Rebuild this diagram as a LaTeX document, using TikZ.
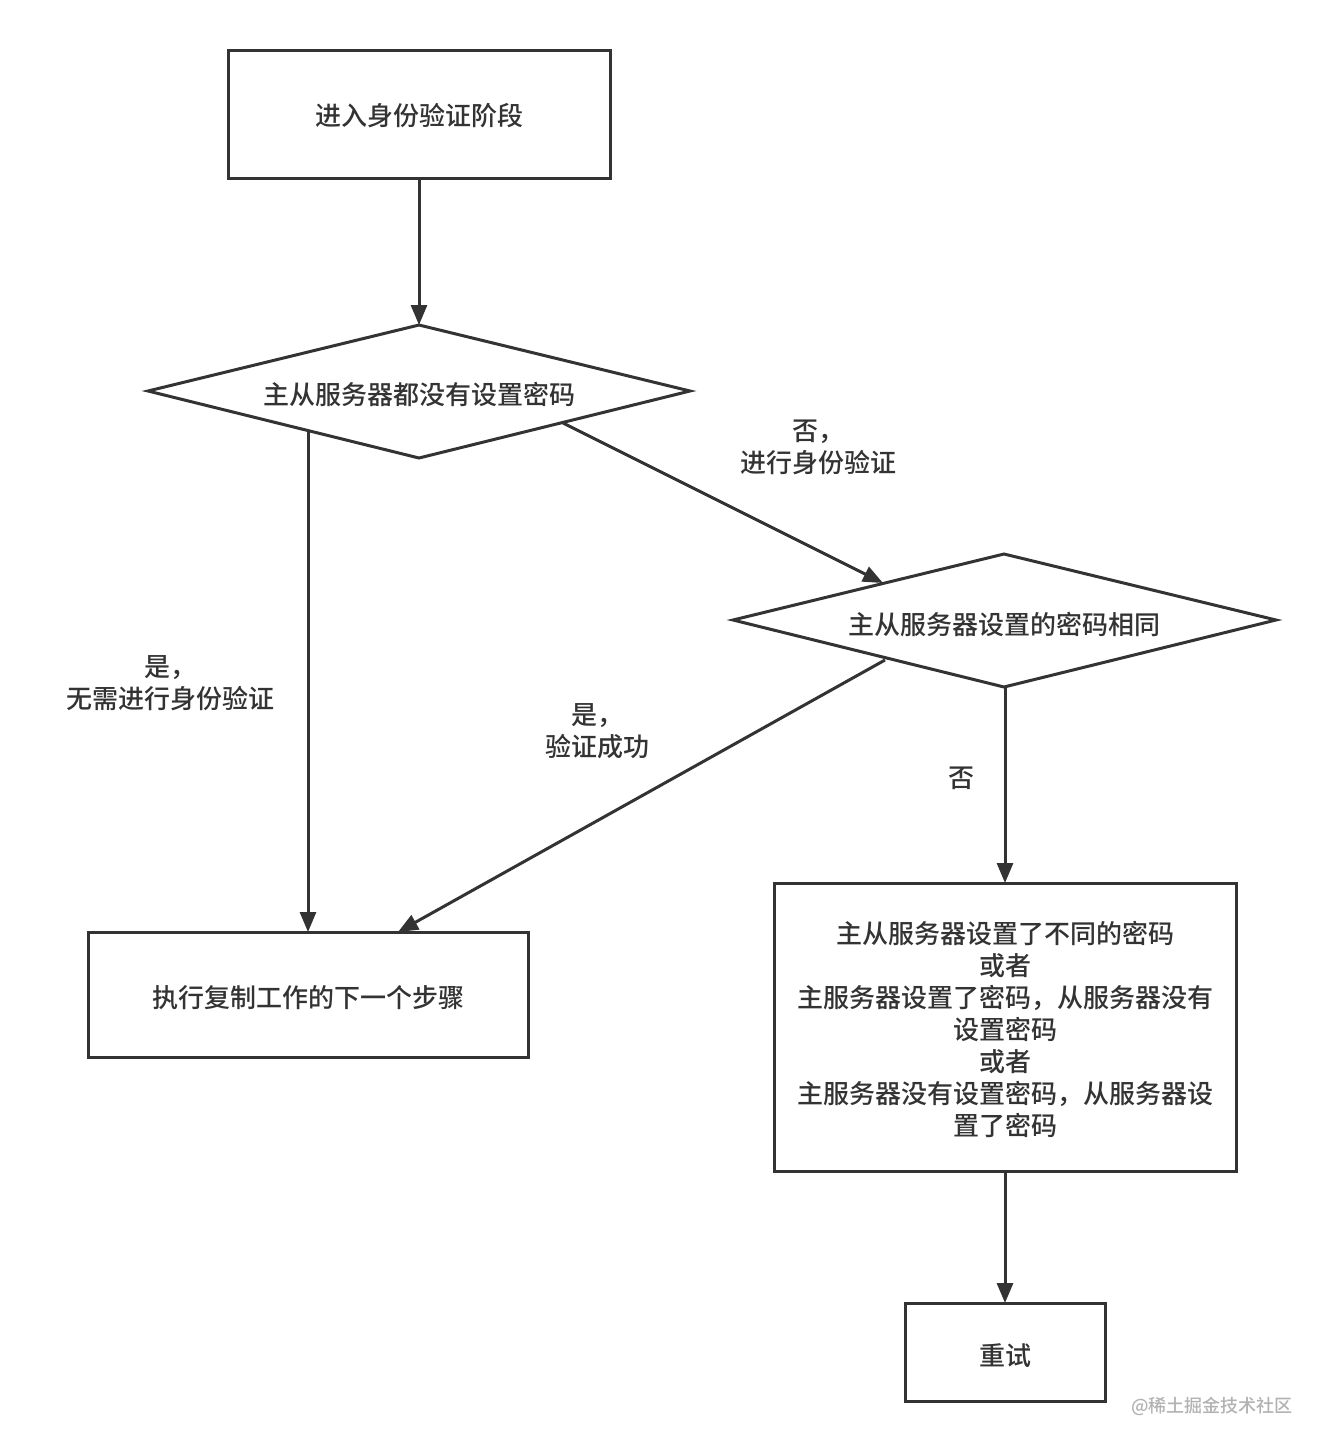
\documentclass[tikz,border=0pt]{standalone}
\usepackage{fontspec}
\newfontfamily\cjk{Noto Sans CJK SC Medium}
\usetikzlibrary{arrows.meta}
\definecolor{ink}{HTML}{333333}
\begin{document}
\begin{tikzpicture}[x=1pt,y=-1pt,
  shp/.style={draw=ink,line width=3pt},
  txt/.style={font=\cjk\fontsize{26}{32}\selectfont,text=ink,align=center},
  arr/.style={draw=ink,line width=3pt,-{Triangle[length=20pt,width=16pt]}}]
\useasboundingbox (0,0) rectangle (1327,1452);
\fill[white] (0,0) rectangle (1327,1452);
% boxes
\draw[shp] (228,50) rectangle (610,178);
\node[txt] (b1) at (419,116) {进入身份验证阶段};
\draw[shp] (88,932) rectangle (528,1057);
\node[txt] (b2) at (308,998) {执行复制工作的下一个步骤};
\draw[shp] (774,883) rectangle (1236,1171);
\node[txt] (b3) at (1005,1029) {主从服务器设置了不同的密码\\或者\\主服务器设置了密码，从服务器没有\\设置密码\\或者\\主服务器没有设置密码，从服务器设\\置了密码};
\draw[shp] (905,1303) rectangle (1105,1401);
\node[txt] (b4) at (1005,1356) {重试};
% diamonds
\draw[shp,line join=miter] (148,391) -- (419,325) -- (690,391) -- (419,458) -- cycle;
\node[txt] (d1) at (419,394) {主从服务器都没有设置密码};
\draw[shp,line join=miter] (733,620) -- (1004,554) -- (1276,620) -- (1004,687) -- cycle;
\node[txt] (d2) at (1004,624) {主从服务器设置的密码相同};
% anchor coordinates
\coordinate (b1s) at (419,178); \coordinate (d1n) at (419,325);
\coordinate (d1l) at (308,431); \coordinate (b2n) at (308,932);
\coordinate (d1r) at (563,423); \coordinate (d2w) at (883,583);
\coordinate (d2l) at (885,660); \coordinate (b2ne) at (398,932);
\coordinate (d2s) at (1005,687); \coordinate (b3n) at (1005,883);
\coordinate (b3s) at (1005,1171); \coordinate (b4n) at (1005,1303);
\draw[arr] (b1s) -- (d1n);
\draw[arr] (d1l) -- (b2n);
\draw[arr] (d1r) -- (d2w);
\draw[arr] (d2l) -- (b2ne);
\draw[arr] (d2s) -- (b3n);
\draw[arr] (b3s) -- (b4n);
% labels
\node[txt] (l1) at (818,447) {否，\\进行身份验证};
\node[txt] (l2) at (170,683) {是，\\无需进行身份验证};
\node[txt] (l3) at (597,731) {是，\\验证成功};
\node[txt] (l4) at (961,778) {否};
\node[font=\cjk\fontsize{18}{20}\selectfont,text=gray!60] (wm) at (1212,1406) {@稀土掘金技术社区};
\end{tikzpicture}
\end{document}
